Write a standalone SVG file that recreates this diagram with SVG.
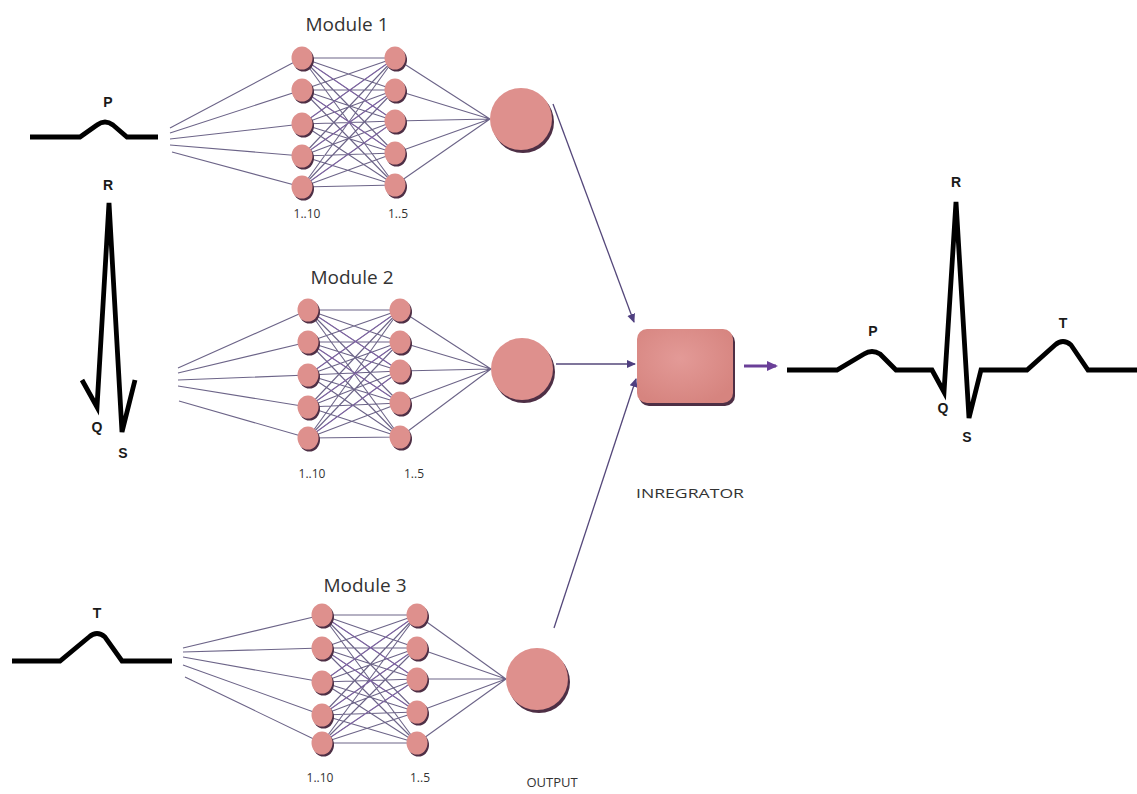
<svg xmlns="http://www.w3.org/2000/svg" width="1137" height="794" viewBox="0 0 1137 794">
  <style>
    .ecg { fill: none; stroke: #000; stroke-width: 4.8; stroke-linejoin: miter; stroke-miterlimit: 5; }
    .wave-lbl { font-family: "Liberation Sans", Arial, sans-serif; font-weight: bold; font-size: 14px; fill: #1a1a1a; text-anchor: middle; }
    .title { font-family: "Open Sans", "Liberation Sans", sans-serif; font-size: 19px; fill: #333333; text-anchor: middle; }
    .small { font-family: "Open Sans", "Liberation Sans", sans-serif; font-size: 12px; fill: #333333; text-anchor: middle; }
    .caption { font-family: "Open Sans", "Liberation Sans", sans-serif; font-size: 13px; fill: #333333; text-anchor: middle; }
    .syn { fill: none; stroke: #6c6488; stroke-width: 1.1; }
    .syn2 { fill: none; stroke: #8a5cb8; stroke-width: 0.9; opacity: 0.7; }
    .flow { fill: none; stroke: #54477a; stroke-width: 1.3; }
    .neuron { fill: #de908d; }
    .shadow { fill: #4e2f45; }
  </style>
  <defs>
    <marker id="arrow" markerWidth="10" markerHeight="10" refX="8" refY="5" orient="auto" markerUnits="userSpaceOnUse">
      <path d="M0 1 L9 5 L0 9 Z" fill="#4f3f80"/>
    </marker>
    <marker id="arrow-bold" markerWidth="12" markerHeight="12" refX="9" refY="6" orient="auto" markerUnits="userSpaceOnUse">
      <path d="M0 1 L11 6 L0 11 Z" fill="#6a3f98"/>
    </marker>
    <radialGradient id="body" cx="0.45" cy="0.4" r="0.65">
      <stop offset="0" stop-color="#e39a97"/>
      <stop offset="1" stop-color="#d6847f"/>
    </radialGradient>
  </defs>

  <rect width="1137" height="794" fill="#ffffff"/>

  <!-- ECG input segments -->
  <g id="wave-p">
    <path class="ecg" d="M30 137 L80 137 L97 125 Q105 119 113 125 L127 137 L158 137"/>
    <text class="wave-lbl" x="108" y="107">P</text>
  </g>
  <g id="wave-qrs">
    <path class="ecg" d="M82 380 L97 407 L109 203 L122 432 L135 380"/>
    <text class="wave-lbl" x="108" y="190">R</text>
    <text class="wave-lbl" x="97" y="432">Q</text>
    <text class="wave-lbl" x="123" y="458">S</text>
  </g>
  <g id="wave-t">
    <path class="ecg" d="M12 661 L60 661 L89 637 Q97 630 105 637 L122 661 L172 661"/>
    <text class="wave-lbl" x="97" y="618">T</text>
  </g>

  <!-- reconstructed full beat -->
  <g id="ecg-output">
    <path class="ecg" d="M787 370 L837 370 L864 354 Q872 349 880 354 L896 370 L932 370 L944 392 L956 202 L969 418 L981 370 L1027 370 L1055 345 Q1063 338 1071 345 L1088 370 L1137 370"/>
    <text class="wave-lbl" x="956" y="187">R</text>
    <text class="wave-lbl" x="873" y="336">P</text>
    <text class="wave-lbl" x="1063" y="328">T</text>
    <text class="wave-lbl" x="943" y="413">Q</text>
    <text class="wave-lbl" x="967" y="442">S</text>
  </g>

  <!-- all connections -->
  <g id="connectors">
    <!-- module 1 -->
    <path class="syn" d="M170 128L302 58 M170 133L302 90 M170 139L302 124 M170 145L302 156 M172 152L302 187"/>
    <path class="syn" d="M302 58L395 58M302 58L395 90M302 58L395 121M302 58L395 153M302 58L395 185
      M302 90L395 58M302 90L395 90M302 90L395 121M302 90L395 153M302 90L395 185
      M302 124L395 58M302 124L395 90M302 124L395 121M302 124L395 153M302 124L395 185
      M302 156L395 58M302 156L395 90M302 156L395 121M302 156L395 153M302 156L395 185
      M302 187L395 58M302 187L395 90M302 187L395 121M302 187L395 153M302 187L395 185"/>
    <path class="syn2" d="M302 90L395 153M302 124L395 58M302 156L395 90M302 187L395 121M302 58L395 121"/>
    <path class="syn" d="M395 58L490 119M395 90L490 119M395 121L490 119M395 153L490 119M395 185L490 119"/>

    <!-- module 2 -->
    <path class="syn" d="M178 368L308 310 M178 373L308 342 M178 380L308 375 M178 386L308 407 M179 401L308 438"/>
    <path class="syn" d="M308 310L400 310M308 310L400 342M308 310L400 371M308 310L400 403M308 310L400 437
      M308 342L400 310M308 342L400 342M308 342L400 371M308 342L400 403M308 342L400 437
      M308 375L400 310M308 375L400 342M308 375L400 371M308 375L400 403M308 375L400 437
      M308 407L400 310M308 407L400 342M308 407L400 371M308 407L400 403M308 407L400 437
      M308 438L400 310M308 438L400 342M308 438L400 371M308 438L400 403M308 438L400 437"/>
    <path class="syn2" d="M308 342L400 403M308 375L400 310M308 407L400 342M308 438L400 371M308 310L400 371"/>
    <path class="syn" d="M400 310L491 369M400 342L491 369M400 371L491 369M400 403L491 369M400 437L491 369"/>

    <!-- module 3 -->
    <path class="syn" d="M183 648L322 615 M183 652L322 648 M183 657L322 682 M183 665L322 715 M185 677L322 743"/>
    <path class="syn" d="M322 615L417 615M322 615L417 648M322 615L417 679M322 615L417 712M322 615L417 743
      M322 648L417 615M322 648L417 648M322 648L417 679M322 648L417 712M322 648L417 743
      M322 682L417 615M322 682L417 648M322 682L417 679M322 682L417 712M322 682L417 743
      M322 715L417 615M322 715L417 648M322 715L417 679M322 715L417 712M322 715L417 743
      M322 743L417 615M322 743L417 648M322 743L417 679M322 743L417 712M322 743L417 743"/>
    <path class="syn2" d="M322 648L417 712M322 682L417 615M322 715L417 648M322 743L417 679M322 615L417 679"/>
    <path class="syn" d="M417 615L506 679M417 648L506 679M417 679L506 679M417 712L506 679M417 743L506 679"/>

    <!-- module outputs into the integrator -->
    <path class="flow" d="M553 104 L634 322" marker-end="url(#arrow)"/>
    <path class="flow" d="M556 364 L635 364" marker-end="url(#arrow)"/>
    <path class="flow" d="M554 628 L636 379" marker-end="url(#arrow)"/>
    <path d="M744 366 L776 366" fill="none" stroke="#6a3f98" stroke-width="3" marker-end="url(#arrow-bold)"/>
  </g>

  <!-- module 1 -->
  <g id="module-1">
    <text class="title" x="347" y="31">Module 1</text>
    <g id="m1-hidden-a">
      <ellipse class="shadow" cx="303.5" cy="60" rx="10.5" ry="11.5"/><ellipse class="neuron" fill="url(#body)" cx="302" cy="58" rx="10.5" ry="11.5"/>
      <ellipse class="shadow" cx="303.5" cy="92" rx="10.5" ry="11.5"/><ellipse class="neuron" fill="url(#body)" cx="302" cy="90" rx="10.5" ry="11.5"/>
      <ellipse class="shadow" cx="303.5" cy="126" rx="10.5" ry="11.5"/><ellipse class="neuron" fill="url(#body)" cx="302" cy="124" rx="10.5" ry="11.5"/>
      <ellipse class="shadow" cx="303.5" cy="158" rx="10.5" ry="11.5"/><ellipse class="neuron" fill="url(#body)" cx="302" cy="156" rx="10.5" ry="11.5"/>
      <ellipse class="shadow" cx="303.5" cy="189" rx="10.5" ry="11.5"/><ellipse class="neuron" fill="url(#body)" cx="302" cy="187" rx="10.5" ry="11.5"/>
    </g>
    <g id="m1-hidden-b">
      <ellipse class="shadow" cx="396.5" cy="60" rx="10.5" ry="11.5"/><ellipse class="neuron" fill="url(#body)" cx="395" cy="58" rx="10.5" ry="11.5"/>
      <ellipse class="shadow" cx="396.5" cy="92" rx="10.5" ry="11.5"/><ellipse class="neuron" fill="url(#body)" cx="395" cy="90" rx="10.5" ry="11.5"/>
      <ellipse class="shadow" cx="396.5" cy="123" rx="10.5" ry="11.5"/><ellipse class="neuron" fill="url(#body)" cx="395" cy="121" rx="10.5" ry="11.5"/>
      <ellipse class="shadow" cx="396.5" cy="155" rx="10.5" ry="11.5"/><ellipse class="neuron" fill="url(#body)" cx="395" cy="153" rx="10.5" ry="11.5"/>
      <ellipse class="shadow" cx="396.5" cy="187" rx="10.5" ry="11.5"/><ellipse class="neuron" fill="url(#body)" cx="395" cy="185" rx="10.5" ry="11.5"/>
    </g>
    <g id="m1-out">
      <circle class="shadow" cx="523" cy="122" r="31"/><circle class="neuron" fill="url(#body)" cx="521" cy="119" r="31"/>
    </g>
    <text class="small" x="307" y="218">1..10</text>
    <text class="small" x="398" y="218">1..5</text>
  </g>

  <!-- module 2 -->
  <g id="module-2">
    <text class="title" x="352" y="284">Module 2</text>
    <g id="m2-hidden-a">
      <ellipse class="shadow" cx="309.5" cy="312" rx="10.5" ry="11.5"/><ellipse class="neuron" fill="url(#body)" cx="308" cy="310" rx="10.5" ry="11.5"/>
      <ellipse class="shadow" cx="309.5" cy="344" rx="10.5" ry="11.5"/><ellipse class="neuron" fill="url(#body)" cx="308" cy="342" rx="10.5" ry="11.5"/>
      <ellipse class="shadow" cx="309.5" cy="377" rx="10.5" ry="11.5"/><ellipse class="neuron" fill="url(#body)" cx="308" cy="375" rx="10.5" ry="11.5"/>
      <ellipse class="shadow" cx="309.5" cy="409" rx="10.5" ry="11.5"/><ellipse class="neuron" fill="url(#body)" cx="308" cy="407" rx="10.5" ry="11.5"/>
      <ellipse class="shadow" cx="309.5" cy="440" rx="10.5" ry="11.5"/><ellipse class="neuron" fill="url(#body)" cx="308" cy="438" rx="10.5" ry="11.5"/>
    </g>
    <g id="m2-hidden-b">
      <ellipse class="shadow" cx="401.5" cy="312" rx="10.5" ry="11.5"/><ellipse class="neuron" fill="url(#body)" cx="400" cy="310" rx="10.5" ry="11.5"/>
      <ellipse class="shadow" cx="401.5" cy="344" rx="10.5" ry="11.5"/><ellipse class="neuron" fill="url(#body)" cx="400" cy="342" rx="10.5" ry="11.5"/>
      <ellipse class="shadow" cx="401.5" cy="373" rx="10.5" ry="11.5"/><ellipse class="neuron" fill="url(#body)" cx="400" cy="371" rx="10.5" ry="11.5"/>
      <ellipse class="shadow" cx="401.5" cy="405" rx="10.5" ry="11.5"/><ellipse class="neuron" fill="url(#body)" cx="400" cy="403" rx="10.5" ry="11.5"/>
      <ellipse class="shadow" cx="401.5" cy="439" rx="10.5" ry="11.5"/><ellipse class="neuron" fill="url(#body)" cx="400" cy="437" rx="10.5" ry="11.5"/>
    </g>
    <g id="m2-out">
      <circle class="shadow" cx="524" cy="372" r="31"/><circle class="neuron" fill="url(#body)" cx="522" cy="369" r="31"/>
    </g>
    <text class="small" x="312" y="478">1..10</text>
    <text class="small" x="414" y="478">1..5</text>
  </g>

  <!-- module 3 -->
  <g id="module-3">
    <text class="title" x="365" y="592">Module 3</text>
    <g id="m3-hidden-a">
      <ellipse class="shadow" cx="323.5" cy="617" rx="10.5" ry="11.5"/><ellipse class="neuron" fill="url(#body)" cx="322" cy="615" rx="10.5" ry="11.5"/>
      <ellipse class="shadow" cx="323.5" cy="650" rx="10.5" ry="11.5"/><ellipse class="neuron" fill="url(#body)" cx="322" cy="648" rx="10.5" ry="11.5"/>
      <ellipse class="shadow" cx="323.5" cy="684" rx="10.5" ry="11.5"/><ellipse class="neuron" fill="url(#body)" cx="322" cy="682" rx="10.5" ry="11.5"/>
      <ellipse class="shadow" cx="323.5" cy="717" rx="10.5" ry="11.5"/><ellipse class="neuron" fill="url(#body)" cx="322" cy="715" rx="10.5" ry="11.5"/>
      <ellipse class="shadow" cx="323.5" cy="745" rx="10.5" ry="11.5"/><ellipse class="neuron" fill="url(#body)" cx="322" cy="743" rx="10.5" ry="11.5"/>
    </g>
    <g id="m3-hidden-b">
      <ellipse class="shadow" cx="418.5" cy="617" rx="10.5" ry="11.5"/><ellipse class="neuron" fill="url(#body)" cx="417" cy="615" rx="10.5" ry="11.5"/>
      <ellipse class="shadow" cx="418.5" cy="650" rx="10.5" ry="11.5"/><ellipse class="neuron" fill="url(#body)" cx="417" cy="648" rx="10.5" ry="11.5"/>
      <ellipse class="shadow" cx="418.5" cy="681" rx="10.5" ry="11.5"/><ellipse class="neuron" fill="url(#body)" cx="417" cy="679" rx="10.5" ry="11.5"/>
      <ellipse class="shadow" cx="418.5" cy="714" rx="10.5" ry="11.5"/><ellipse class="neuron" fill="url(#body)" cx="417" cy="712" rx="10.5" ry="11.5"/>
      <ellipse class="shadow" cx="418.5" cy="745" rx="10.5" ry="11.5"/><ellipse class="neuron" fill="url(#body)" cx="417" cy="743" rx="10.5" ry="11.5"/>
    </g>
    <g id="m3-out">
      <circle class="shadow" cx="539" cy="682" r="31"/><circle class="neuron" fill="url(#body)" cx="537" cy="679" r="31"/>
    </g>
    <text class="small" x="320" y="782">1..10</text>
    <text class="small" x="420" y="782">1..5</text>
    <text class="caption" x="552" y="787">OUTPUT</text>
  </g>

  <!-- integrator -->
  <g id="integrator">
    <rect x="639" y="332" width="96" height="74" rx="10" fill="#4e2f45"/>
    <rect x="637" y="329" width="96" height="74" rx="10" fill="url(#body)"/>
    <text class="caption" x="690" y="498" font-size="16" textLength="108" lengthAdjust="spacingAndGlyphs">INREGRATOR</text>
  </g>
</svg>
